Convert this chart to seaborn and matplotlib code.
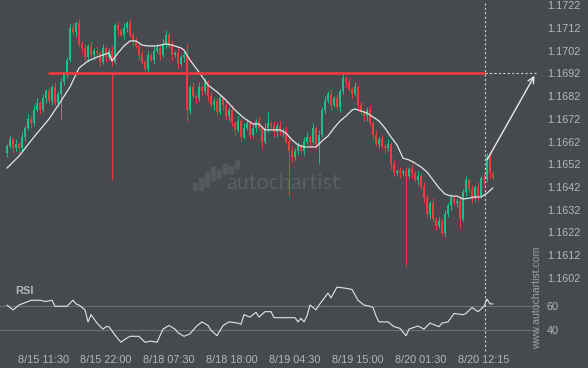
import numpy as np
import pandas as pd
import matplotlib
matplotlib.use("Agg")
import matplotlib.pyplot as plt
from matplotlib.patches import Rectangle
import seaborn as sns

# 30 min candles, 8/15 05:30 -> 8/20 13:30 (weekend skipped)
closes = [1.1660, 1.1663, 1.1659, 1.1661, 1.1659, 1.1664, 1.1668, 1.1672, 1.1670, 1.1676,
          1.1679, 1.1676, 1.1681, 1.1684, 1.1680, 1.1686, 1.1679, 1.1683, 1.1688, 1.1692,
          1.1698, 1.1712, 1.1710, 1.1714, 1.1705, 1.1703, 1.1699, 1.1704, 1.1700, 1.1702,
          1.1701, 1.1697, 1.1703, 1.1699, 1.1702, 1.1697, 1.1713, 1.1711, 1.1709, 1.1712,
          1.1714, 1.1709, 1.1706, 1.1704, 1.1700, 1.1697, 1.1694, 1.1700, 1.1698, 1.1702,
          1.1703, 1.1700, 1.1705, 1.1709, 1.1704, 1.1700, 1.1701, 1.1696, 1.1699, 1.1700,
          1.1676, 1.1686, 1.1682, 1.1681, 1.1686, 1.1684, 1.1688, 1.1682, 1.1678, 1.1680,
          1.1675, 1.1681, 1.1678, 1.1673, 1.1676, 1.1670, 1.1667, 1.1671, 1.1664, 1.1668,
          1.1670, 1.1665, 1.1668, 1.1671, 1.1668, 1.1662, 1.1668, 1.1670, 1.1669, 1.1666,
          1.1669, 1.1666, 1.1667, 1.1662, 1.1658, 1.1655, 1.1658, 1.1660, 1.1658, 1.1662,
          1.1664, 1.1662, 1.1668, 1.1661, 1.1665, 1.1676, 1.1680, 1.1683, 1.1678, 1.1681,
          1.1677, 1.1684, 1.1690, 1.1688, 1.1685, 1.1683, 1.1686, 1.1678, 1.1675, 1.1673,
          1.1676, 1.1670, 1.1665, 1.1661, 1.1663, 1.1660, 1.1659, 1.1661, 1.1652, 1.1648,
          1.1649, 1.1648, 1.1649, 1.1647, 1.1650, 1.1648, 1.1645, 1.1647, 1.1642, 1.1637,
          1.1630, 1.1635, 1.1628, 1.1625, 1.1627, 1.1622, 1.1630, 1.1634, 1.1637, 1.1635,
          1.1636, 1.1628, 1.1640, 1.1645, 1.1641, 1.1637, 1.1642, 1.1638, 1.1646, 1.1645,
          1.1655, 1.1648, 1.1646]
first_open = 1.1657

# wick lengths beyond the body, in pips
wick_hi = [1, 2, 1, 2, 1, 2, 1, 2, 1, 2,  2, 1, 2, 1, 2, 1, 2, 1, 2, 1,
           1, 2, 2, 1, 2, 1, 2, 1, 2, 1,  2, 1, 2, 1, 1, 2, 1, 2, 1, 2,
           1, 2, 1, 2, 1, 2, 1, 2, 1, 2,  2, 1, 2, 2, 1, 2, 1, 2, 1, 2,
           5, 1, 2, 1, 2, 1, 2, 1, 2, 1,  1, 2, 1, 2, 1, 2, 1, 2, 1, 2,
           2, 1, 2, 1, 2, 1, 2, 5, 1, 2,  1, 2, 1, 2, 1, 2, 1, 2, 1, 2,
           2, 1, 2, 1, 2, 1, 2, 1, 2, 1,  2, 1, 2, 1, 2, 1, 2, 1, 2, 1,
           1, 2, 1, 2, 1, 2, 1, 2, 1, 2,  1, 2, 1, 2, 1, 2, 1, 2, 1, 2,
           2, 1, 2, 1, 2, 1, 2, 1, 2, 1,  1, 2, 1, 2, 1, 2, 1, 2, 1, 2,
           2, 3, 1]
wick_lo = [2, 1, 2, 1, 2, 1, 2, 1, 2, 1,  1, 2, 1, 2, 1, 2, 1, 2, 11, 1,
           2, 1, 1, 2, 1, 2, 1, 2, 1, 2,  1, 2, 1, 2, 1, 2, 1, 2, 1, 2,
           2, 1, 2, 1, 2, 1, 1, 2, 1, 2,  1, 2, 1, 2, 1, 2, 1, 2, 1, 2,
           5, 2, 1, 2, 1, 2, 1, 2, 1, 2,  2, 1, 2, 1, 2, 1, 2, 1, 2, 1,
           1, 2, 1, 2, 1, 3, 1, 2, 1, 2,  2, 1, 2, 1, 20, 2, 1, 2, 1, 2,
           1, 2, 1, 2, 9, 1, 2, 1, 2, 1,  1, 2, 1, 2, 1, 2, 1, 2, 1, 2,
           2, 1, 2, 1, 2, 1, 2, 1, 2, 1,  1, 2, 1, 40, 1, 2, 1, 2, 1, 2,
           1, 2, 1, 2, 1, 1, 2, 1, 2, 1,  2, 4, 1, 2, 1, 2, 1, 2, 1, 2,
           1, 2, 1]

# moving average (white line), read at some candles
ma_idx = [0, 4, 9, 14, 18, 21, 24, 27, 30, 33, 34, 35, 37, 39, 41, 43, 45, 47, 50, 53,
          55, 58, 59, 61, 64, 67, 70, 73, 76, 79, 82, 84, 86, 88, 91, 93, 95, 97, 99, 101,
          103, 105, 107, 109, 111, 113, 115, 116, 118, 120, 122, 124, 126, 128, 130, 132, 134, 136, 138, 140,
          142, 144, 146, 148, 150, 152, 154, 156, 158, 160, 162]
ma_val = [1.16503, 1.16556, 1.16640, 1.16719, 1.16798, 1.16860, 1.16943, 1.16974, 1.16991, 1.17005,
          1.17009, 1.16974, 1.17009, 1.17040, 1.17062, 1.17062, 1.17044, 1.17040, 1.17040, 1.17049,
          1.17044, 1.17031, 1.17022, 1.16978, 1.16925, 1.16868, 1.16838, 1.16802, 1.16758, 1.16723,
          1.16697, 1.16697, 1.16671, 1.16671, 1.16671, 1.16657, 1.16627, 1.16605, 1.16596, 1.16596,
          1.16596, 1.16622, 1.16644, 1.16679, 1.16710, 1.16732, 1.16758, 1.16763, 1.16754, 1.16745,
          1.16728, 1.16710, 1.16679, 1.16640, 1.16605, 1.16547, 1.16539, 1.16525, 1.16508, 1.16486,
          1.16451, 1.16416, 1.16389, 1.16380, 1.16380, 1.16367, 1.16371, 1.16376, 1.16376, 1.16393,
          1.16416]

rsi_idx = [0, 2, 4, 6, 8, 11, 13, 15, 16, 20, 22, 23, 24, 26, 27, 28, 30, 32, 33, 34,
           36, 38, 39, 41, 44, 46, 48, 50, 52, 54, 56, 57, 59, 61, 63, 65, 67, 68, 70, 72,
           74, 77, 78, 79, 81, 83, 84, 86, 88, 89, 96, 97, 98, 99, 100, 101, 103, 104, 107, 108,
           110, 113, 115, 117, 119, 121, 122, 123, 124, 127, 129, 131, 133, 134, 137, 139, 141, 144, 145, 147,
           149, 152, 153, 155, 157, 159, 160, 161, 162]
rsi_val = [61, 57, 61, 63, 65, 65, 64, 65, 60, 60, 65, 62, 61, 57, 47, 53, 46, 41, 43, 43,
           36, 30, 32, 35, 35, 30, 31, 30, 41, 44, 41, 38, 35, 37, 43, 47, 44, 40, 35.5, 44,
           47, 46, 45, 53, 51, 55, 51, 55.5, 55.5, 50.5, 50.5, 47, 50, 47, 52, 61, 57, 61, 71, 67,
           76, 75, 74, 65, 61, 60, 59, 52, 47, 47, 43, 41.6, 35.5, 41, 43.6, 41, 46, 43, 46, 47,
           54, 53, 54, 59, 55.5, 60, 66, 62, 62]

price_ticks = [1.1602, 1.1612, 1.1622, 1.1632, 1.1642, 1.1652, 1.1662, 1.1672,
               1.1682, 1.1692, 1.1702, 1.1712, 1.1722]
time_tick_idx = [12, 33, 54, 75, 96, 117, 138, 159]
time_labels = ["8/15 11:30", "8/15 22:00", "8/18 07:30", "8/18 18:00",
               "8/19 04:30", "8/19 15:00", "8/20 01:30", "8/20 12:15"]

level = 1.1692
breakout_idx = 35
breakout_low = 1.1645
now_idx = 159.33
target_idx = 176.5
arrow_start = 1.1653

BG = "#464a4f"
TXT = "#b3b6ba"
RED = "#f2393d"
GREEN = "#16c288"

sns.set_style("dark", {"axes.facecolor": BG, "figure.facecolor": BG})
plt.rcParams["font.family"] = ["Liberation Sans", "DejaVu Sans"]

# candles
df = pd.DataFrame({"close": closes})
df["open"] = df["close"].shift(1).fillna(first_open)
df["high"] = df[["open", "close"]].max(axis=1) + np.array(wick_hi) * 0.0001
df["low"] = df[["open", "close"]].min(axis=1) - np.array(wick_lo) * 0.0001
df["color"] = np.where(df["close"] >= df["open"], GREEN, RED)
idx = np.arange(len(df))

W, H = 588, 368
fig = plt.figure(figsize=(W / 100, H / 100), dpi=100)
ax = fig.add_axes([0, 1 - 285 / H, 540 / W, 285 / H])
ax_rsi = fig.add_axes([0, 1 - 348 / H, 540 / W, 65 / H])

xlim = (-7 / 3, 533 / 3)

for a in (ax, ax_rsi):
    a.set_facecolor(BG)
    for s in a.spines.values():
        s.set_visible(False)
    a.set_xlim(*xlim)
    a.yaxis.tick_right()
    a.tick_params(axis="both", length=0, colors=TXT, labelsize=7.8)
    a.grid(False)

# faint grid
for t in price_ticks:
    ax.axhline(t, color="#4b4f54", lw=0.6, ls=(0, (1, 2)), zorder=0)
for t in time_tick_idx:
    ax.axvline(t, color="#4b4f54", lw=0.6, ls=(0, (1, 2)), zorder=0)

# watermark (behind the candles)
ax.text(226 / W, 1 - 183 / H, "autochartist", color="#5b5f64", fontsize=15.5,
        family=["Lato", "DejaVu Sans"], va="center", ha="left",
        transform=fig.transFigure, zorder=1)
logo = [(193, 183, 190), (199, 178, 190), (205, 172, 186), (211, 167, 180),
        (217, 170, 178), (223, 164, 174), (229, 166, 173), (235, 160, 168)]
for bx, top, bot in logo:
    ax.add_patch(Rectangle((bx / W, 1 - bot / H), 3.5 / W, (bot - top) / H,
                           transform=fig.transFigure, color="#55595e", zorder=1))

ax.vlines(idx, df["low"], df["high"], colors=df["color"], lw=0.7, zorder=2)
body_lo = df[["open", "close"]].min(axis=1)
body_h = (df["close"] - df["open"]).abs().clip(lower=0.00004)
ax.bar(idx, body_h, bottom=body_lo, width=0.62, color=df["color"], linewidth=0, zorder=3)

sns.lineplot(x=ma_idx, y=ma_val, ax=ax, color="#e4e4e4", lw=0.9, zorder=4)

# pattern lines
ax.hlines(level, 13.7, now_idx, color=RED, lw=1.9, zorder=5)
ax.vlines(breakout_idx, breakout_low, level, color=RED, lw=0.9, zorder=5)
ax.hlines(level, now_idx, target_idx, color="#d0d0d0", lw=0.8, ls=(0, (2, 2)), zorder=5)
ax.axvline(now_idx, ymin=0, ymax=0.99, color="#d0d0d0", lw=0.8, ls=(0, (2, 2)), zorder=5)
ax_rsi.axvline(now_idx, ymin=-0.05, ymax=1, color="#d0d0d0", lw=0.8, ls=(0, (2, 2)),
               zorder=5, clip_on=False)
ax.annotate("", xy=(target_idx - 0.2, level), xytext=(now_idx + 0.3, arrow_start),
            arrowprops=dict(arrowstyle="->", color="#e8e8e8", lw=1.0, mutation_scale=11),
            zorder=6)

ax.set_ylim(1.1722 - 280 / 22750, 1.1722 + 5 / 22750)
ax.set_yticks(price_ticks)
ax.set_yticklabels([f"{t:.4f}" for t in price_ticks])
ax.tick_params(axis="y", pad=5)
ax.set_xticks([])
ax.set_xlabel("")
ax.set_ylabel("")

# RSI panel
for lv in (40, 60):
    ax_rsi.axhline(lv, color="#6c7075", lw=0.8, zorder=1)
sns.lineplot(x=rsi_idx, y=rsi_val, ax=ax_rsi, color="#e4e4e4", lw=0.8, zorder=3)
ax_rsi.set_ylim(25.25, 79.4)
ax_rsi.set_yticks([40, 60])
ax_rsi.set_yticklabels(["40", "60"])
ax_rsi.tick_params(axis="y", pad=5)
ax_rsi.set_xticks(time_tick_idx)
ax_rsi.set_xticklabels(time_labels)
ax_rsi.tick_params(axis="x", pad=5)
ax_rsi.set_xlabel("")
ax_rsi.set_ylabel("")
ax_rsi.patch.set_alpha(0)

fig.text(15 / W, 1 - 291 / H, "RSI", color=TXT, fontsize=8, fontweight="bold", va="center")
fig.text(537 / W, 1 - 298 / H, "www.autochartist.com", color="#9da0a4", fontsize=7.6,
         rotation=90, ha="center", va="center")

fig.savefig("out.png", dpi=100, facecolor=BG)
